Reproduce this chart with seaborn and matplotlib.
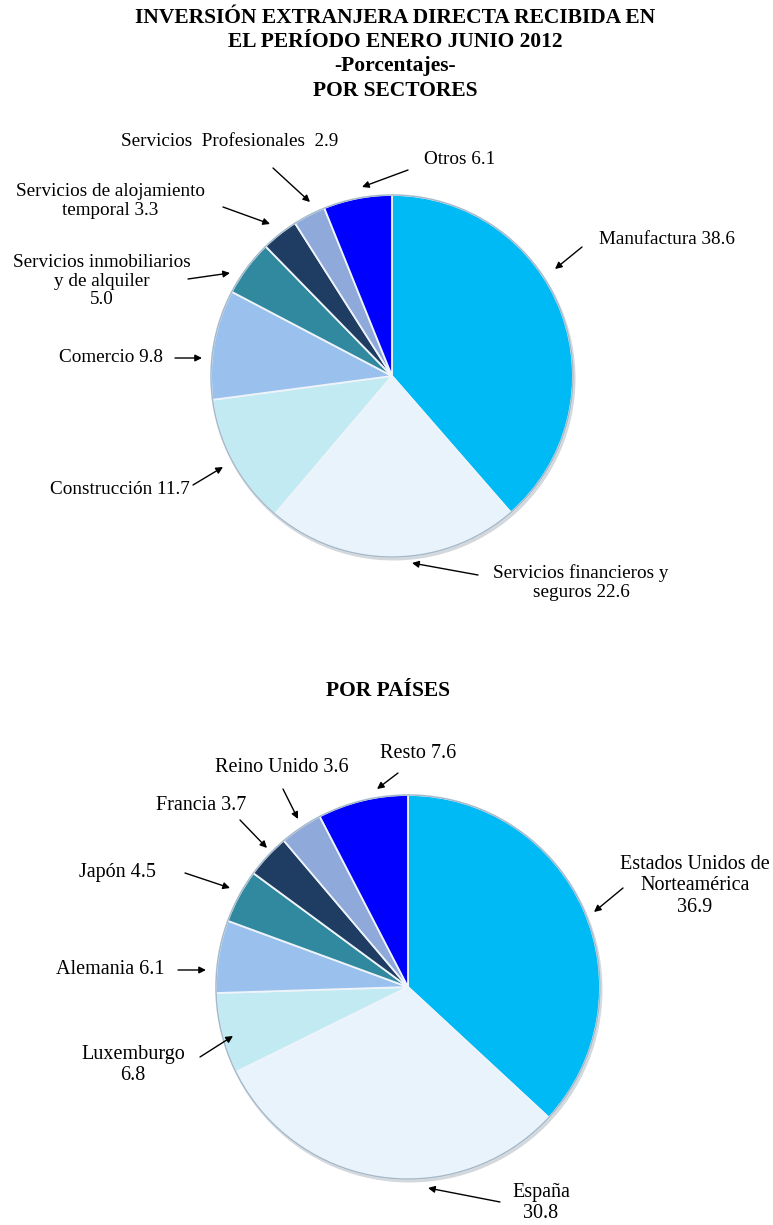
import matplotlib
matplotlib.use("Agg")
import matplotlib.pyplot as plt
import seaborn as sns

sns.set_theme(style="white")
plt.rcParams['font.family'] = ['Liberation Serif', 'DejaVu Serif']
plt.rcParams['text.color'] = 'black'

# ---- Data ----
sector_labels = ["Manufactura 38.6", "Servicios financieros y\nseguros 22.6", "Construcción 11.7",
                 "Comercio 9.8", "Servicios inmobiliarios\ny de alquiler\n5.0",
                 "Servicios de alojamiento\ntemporal 3.3", "Servicios  Profesionales  2.9", "Otros 6.1"]
sector_values = [38.6, 22.6, 11.7, 9.8, 5.0, 3.3, 2.9, 6.1]

country_labels = ["Estados Unidos de\nNorteamérica\n36.9", "España\n30.8", "Luxemburgo\n6.8",
                  "Alemania 6.1", "Japón 4.5", "Francia 3.7", "Reino Unido 3.6", "Resto 7.6"]
country_values = [36.9, 30.8, 6.8, 6.1, 4.5, 3.7, 3.6, 7.6]

colors = ["#00BAF5", "#E8F3FC", "#C2EAF3", "#9AC1EE", "#31899F", "#1F3D62", "#8FAADA", "#0000FF"]

W, H = 773, 1225
fig = plt.figure(figsize=(W / 100, H / 100), dpi=100)
ax = fig.add_axes([0, 0, 1, 1])

def Y(y):
    return H - y

pies = [(sector_values, (392, 376), 181), (country_values, (408, 987), 192)]
wedge_kw = dict(edgecolor='#EEF4FA', linewidth=1.3)
for vals, (cx, cy), r in pies:
    # soft drop shadow
    ax.add_patch(plt.Circle((cx + 1.5, Y(cy) - 2.5), r + 1, color='#D3D8DD', zorder=0.5, lw=0))
    ax.pie(vals, colors=colors, startangle=90, counterclock=False,
           center=(cx, Y(cy)), radius=r, wedgeprops=wedge_kw, frame=True)
    ax.add_patch(plt.Circle((cx, Y(cy)), r, fill=False, edgecolor='#A5B8C8', linewidth=1.0, zorder=3))
ax.set_xlim(0, W)
ax.set_ylim(0, H)
ax.set_aspect('equal')
ax.axis('off')

# Titles
title_lines = [("INVERSIÓN EXTRANJERA DIRECTA RECIBIDA EN", 18),
               ("EL PERÍODO ENERO JUNIO 2012", 42),
               ("-Porcentajes-", 66),
               ("POR SECTORES", 91)]
for t, y in title_lines:
    ax.text(395, Y(y), t, ha='center', va='center', fontsize=15.5, fontweight='bold')
ax.text(388, Y(691), "POR PAÍSES", ha='center', va='center', fontsize=15.5, fontweight='bold')

# label text position (center), arrow start, arrow end  (pixel coords)
sector_annot = [
    ((667, 240), (582, 247), (555, 269)),
    ((581, 583), (478, 575), (412, 563)),
    ((120, 489), (193, 485), (223, 467)),
    ((111, 358), (175, 358), (202, 358)),
    ((102, 281), (188, 279), (230, 273)),
    ((110, 201), (223, 207), (270, 224)),
    ((230, 142), (273, 168), (310, 202)),
    ((460, 160), (408, 170), (362, 187)),
]
country_annot = [
    ((695, 886), (623, 888), (594, 912)),
    ((541, 1203), (500, 1202), (428, 1188)),
    ((133, 1065), (200, 1057), (233, 1036)),
    ((110, 970), (178, 970), (206, 970)),
    ((117, 873), (185, 873), (230, 888)),
    ((201, 806), (240, 820), (267, 848)),
    ((282, 767), (283, 789), (298, 819)),
    ((418, 753), (398, 773), (377, 789)),
]

def annotate(labels, annots, fs):
    for lab, (tp, a0, a1) in zip(labels, annots):
        ax.text(tp[0], Y(tp[1]), lab, ha='center', va='center', fontsize=fs,
                linespacing=1.15, color='black')
        ax.annotate("", xy=(a1[0], Y(a1[1])), xytext=(a0[0], Y(a0[1])),
                    arrowprops=dict(arrowstyle='-|>', color='black', lw=1.0,
                                    mutation_scale=10, shrinkA=0, shrinkB=0))

annotate(sector_labels, sector_annot, 13.8)
annotate(country_labels, country_annot, 14.5)

fig.savefig("out.png", dpi=100, facecolor='white')
